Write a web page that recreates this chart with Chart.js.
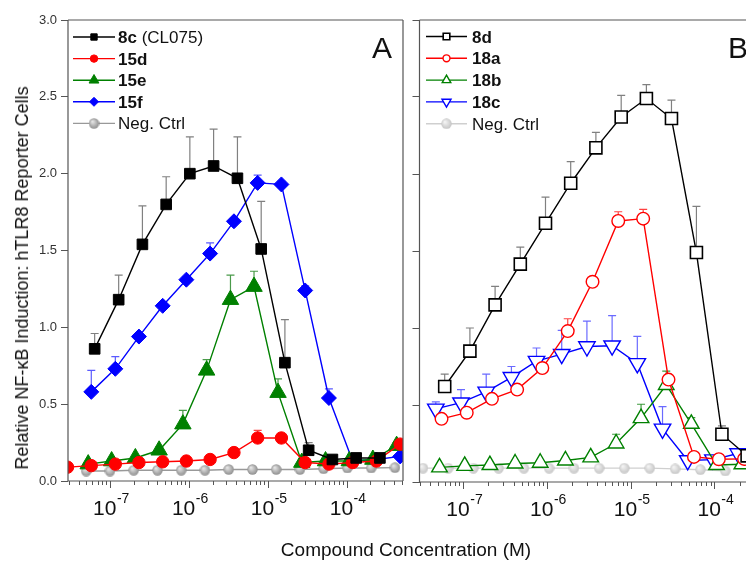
<!DOCTYPE html>
<html>
<head>
<meta charset="utf-8">
<script src="https://cdn.jsdelivr.net/npm/chart.js@4.4.1/dist/chart.umd.min.js"></script>
<style>
  html, body { margin: 0; padding: 0; background: #fff; }
  body { width: 746px; height: 564px; position: relative; overflow: hidden; font-family: 'Liberation Sans', Arial, sans-serif; }
  canvas { position: absolute; top: 0; }
  #chartA { left: 0; }
  #chartB { left: 400px; }
  .txt { position: absolute; white-space: nowrap; color: #111; line-height: 1; transform: translate(-50%, -50%); }
</style>
</head>
<body>
<canvas id="chartA" width="412" height="564"></canvas>
<canvas id="chartB" width="346" height="564"></canvas>
<div class="txt" style="left:382px;top:48px;font-size:30px;">A</div>
<div class="txt" style="left:738px;top:48px;font-size:30px;">B</div>
<div class="txt" style="left:22px;top:278px;font-size:18px;transform:translate(-50%,-50%) rotate(-90deg);">Relative NF-κB Induction: hTLR8 Reporter Cells</div>
<div class="txt" style="left:406px;top:549px;font-size:19px;">Compound Concentration (M)</div>
<script>
// panel A
const conc8c = [6.4e-8, 1.29e-7, 2.58e-7, 5.16e-7, 1.03e-6, 2.06e-6, 4.13e-6, 8.26e-6, 1.65e-5, 3.3e-5, 6.6e-5, 1.32e-4, 2.64e-4]
const val8c = [0.86, 1.18, 1.54, 1.80, 2.00, 2.05, 1.97, 1.51, 0.77, 0.20, 0.14, 0.15, 0.15]
const err8c = [0.10, 0.16, 0.25, 0.18, 0.24, 0.24, 0.27, 0.31, 0.28, 0.05, 0.02, 0.02, 0.02]

const conc15d = [2.9e-8, 5.8e-8, 1.17e-7, 2.33e-7, 4.66e-7, 9.3e-7, 1.86e-6, 3.73e-6, 7.45e-6, 1.49e-5, 2.98e-5, 5.96e-5, 1.19e-4, 2.38e-4, 4.77e-4]
const val15d = [0.09, 0.10, 0.11, 0.12, 0.125, 0.13, 0.14, 0.185, 0.28, 0.28, 0.12, 0.11, 0.12, 0.13, 0.24]
const err15d = [0, 0.01, 0.01, 0.01, 0.01, 0.01, 0.01, 0.02, 0.05, 0.02, 0.01, 0.01, 0.01, 0.01, 0.02]

const conc15e = [5.3e-8, 1.05e-7, 2.1e-7, 4.2e-7, 8.4e-7, 1.68e-6, 3.37e-6, 6.7e-6, 1.35e-5, 2.7e-5, 5.4e-5, 1.08e-4, 2.15e-4, 4.3e-4]
const val15e = [0.11, 0.13, 0.15, 0.20, 0.37, 0.72, 1.18, 1.265, 0.575, 0.12, 0.13, 0.13, 0.14, 0.23]
const err15e = [0.01, 0.01, 0.01, 0.02, 0.09, 0.07, 0.16, 0.10, 0.09, 0.01, 0.01, 0.01, 0.01, 0.02]

const conc15f = [5.8e-8, 1.17e-7, 2.33e-7, 4.66e-7, 9.3e-7, 1.86e-6, 3.73e-6, 7.45e-6, 1.49e-5, 2.98e-5, 5.96e-5, 1.19e-4, 2.38e-4, 4.77e-4]
const val15f = [0.58, 0.73, 0.94, 1.14, 1.31, 1.48, 1.69, 1.94, 1.93, 1.24, 0.54, 0.13, 0.14, 0.16]
const err15f = [0.14, 0.08, 0.02, 0.02, 0.02, 0.07, 0.02, 0.05, 0.02, 0.03, 0.06, 0.01, 0.01, 0.02]

const concNegA = [5.0e-8, 1.0e-7, 2.0e-7, 4.0e-7, 8.0e-7, 1.6e-6, 3.2e-6, 6.4e-6, 1.28e-5, 2.56e-5, 5.1e-5, 1.02e-4, 2.05e-4, 4.1e-4]
const valNegA = [0.065, 0.065, 0.07, 0.07, 0.07, 0.07, 0.075, 0.075, 0.075, 0.075, 0.08, 0.085, 0.085, 0.087]

// panel B
const conc8d = [6.0e-8, 1.2e-7, 2.4e-7, 4.8e-7, 9.6e-7, 1.92e-6, 3.84e-6, 7.7e-6, 1.54e-5, 3.07e-5, 6.1e-5, 1.23e-4, 2.46e-4]
const val8d = [0.62, 0.85, 1.15, 1.415, 1.68, 1.94, 2.17, 2.37, 2.49, 2.36, 1.49, 0.31, 0.17]
const err8d = [0.08, 0.15, 0.12, 0.11, 0.17, 0.14, 0.10, 0.14, 0.09, 0.12, 0.30, 0.055, 0.02]

const conc18a = [5.5e-8, 1.1e-7, 2.2e-7, 4.4e-7, 8.8e-7, 1.77e-6, 3.5e-6, 7.1e-6, 1.41e-5, 2.83e-5, 5.7e-5, 1.13e-4, 2.26e-4]
const val18a = [0.41, 0.45, 0.54, 0.60, 0.74, 0.98, 1.30, 1.695, 1.71, 0.665, 0.163, 0.148, 0.15]
const err18a = [0.02, 0.02, 0.02, 0.02, 0.02, 0.08, 0.02, 0.06, 0.06, 0.02, 0.01, 0.01, 0.01]

const conc18b = [5.2e-8, 1.04e-7, 2.08e-7, 4.16e-7, 8.3e-7, 1.66e-6, 3.33e-6, 6.7e-6, 1.33e-5, 2.66e-5, 5.3e-5, 1.06e-4, 2.13e-4]
const val18b = [0.095, 0.105, 0.11, 0.12, 0.125, 0.14, 0.16, 0.25, 0.415, 0.63, 0.378, 0.11, 0.115]
const err18b = [0.01, 0.01, 0.01, 0.01, 0.01, 0.01, 0.01, 0.06, 0.09, 0.09, 0.04, 0.01, 0.01]

const conc18c = [4.7e-8, 9.4e-8, 1.88e-7, 3.76e-7, 7.5e-7, 1.5e-6, 3.0e-6, 6.0e-6, 1.2e-5, 2.4e-5, 4.8e-5, 9.6e-5, 1.92e-4]
const val18c = [0.475, 0.515, 0.585, 0.68, 0.785, 0.83, 0.88, 0.885, 0.77, 0.345, 0.14, 0.145, 0.185]
const err18c = [0.045, 0.085, 0.115, 0.07, 0.085, 0.155, 0.165, 0.195, 0.175, 0.145, 0.01, 0.01, 0.01]

const concNegB = [3.3e-8, 6.6e-8, 1.32e-7, 2.64e-7, 5.3e-7, 1.06e-6, 2.1e-6, 4.2e-6, 8.4e-6, 1.69e-5, 3.4e-5, 6.8e-5, 1.35e-4]
const valNegB = [0.09, 0.09, 0.09, 0.09, 0.09, 0.09, 0.09, 0.09, 0.09, 0.09, 0.085, 0.08, 0.072]

// axes
const yTicks = [0, 0.5, 1.0, 1.5, 2.0, 2.5, 3.0]
const xTickExps = [-7, -6, -5, -4]
const xDecades = [-8, -7, -6, -5, -4]
const minorSteps = [2, 3, 4, 5, 6, 7, 8, 9]

const FONT = "'Liberation Sans', Arial, sans-serif"
Chart.defaults.font.family = FONT

function ball(size, light, dark) {
  const c = document.createElement('canvas')
  c.width = size
  c.height = size
  const g = c.getContext('2d')
  const r = size / 2
  const grad = g.createRadialGradient(r * 0.7, r * 0.65, 0.5, r, r, r)
  grad.addColorStop(0, light)
  grad.addColorStop(1, dark)
  g.fillStyle = grad
  g.beginPath()
  g.arc(r, r, r - 0.3, 0, Math.PI * 2)
  g.fill()
  return c
}

function series(label, conc, vals, errs, style) {
  return {
    label,
    data: conc.map((c, i) => ({ x: c, y: vals[i] })),
    errors: errs,
    borderWidth: 1.4,
    pointBorderWidth: 1,
    pointHoverRadius: 0,
    ...style,
  }
}

const errorBars = {
  id: 'errorBars',
  beforeDatasetsDraw(chart) {
    const { ctx, chartArea: a } = chart
    const ys = chart.scales.y
    ctx.save()
    ctx.beginPath()
    ctx.rect(a.left, a.top, a.right - a.left, a.bottom - a.top)
    ctx.clip()
    chart.data.datasets.forEach((ds, i) => {
      if (!ds.errors) return
      const pts = chart.getDatasetMeta(i).data
      ctx.strokeStyle = ds.errColor
      ctx.lineWidth = 1.2
      ds.errors.forEach((e, j) => {
        if (!e) return
        const p = pts[j]
        const top = ys.getPixelForValue(ds.data[j].y + e)
        ctx.beginPath()
        ctx.moveTo(p.x, p.y)
        ctx.lineTo(p.x, top)
        ctx.moveTo(p.x - 4, top)
        ctx.lineTo(p.x + 4, top)
        ctx.stroke()
      })
    })
    ctx.restore()
  },
}

// frame, log ticks and 10^n labels
const logAxis = {
  id: 'logAxis',
  afterDraw(chart, args, opts) {
    const { ctx, chartArea: a } = chart
    const xs = chart.scales.x
    ctx.save()
    ctx.strokeStyle = '#555'
    ctx.lineWidth = 1.2
    ctx.beginPath()
    ctx.moveTo(a.left, a.top); ctx.lineTo(a.right, a.top)
    ctx.moveTo(a.left, a.bottom); ctx.lineTo(a.right, a.bottom)
    ctx.moveTo(a.left, a.top); ctx.lineTo(a.left, a.bottom)
    if (opts.rightEdge) { ctx.moveTo(a.right, a.top); ctx.lineTo(a.right, a.bottom) }
    ctx.stroke()

    ctx.lineWidth = 1
    ctx.beginPath()
    xDecades.forEach((e) => {
      const base = Math.pow(10, e)
      ;[1, ...minorSteps].forEach((m) => {
        const v = m * base
        if (v < xs.min || v > xs.max) return
        const px = Math.round(xs.getPixelForValue(v)) + 0.5
        ctx.moveTo(px, a.bottom)
        ctx.lineTo(px, a.bottom + (m === 1 ? 7 : 4))
      })
    })
    ctx.stroke()

    ctx.fillStyle = '#111'
    xTickExps.forEach((e) => {
      const px = xs.getPixelForValue(Math.pow(10, e))
      const sup = String(e)
      ctx.font = '21px ' + FONT
      const w1 = ctx.measureText('10').width
      ctx.font = '14px ' + FONT
      const w2 = ctx.measureText(sup).width
      const x0 = px - (w1 + w2) / 2 + 1
      ctx.font = '21px ' + FONT
      ctx.fillText('10', x0, a.bottom + 34)
      ctx.font = '14px ' + FONT
      ctx.fillText(sup, x0 + w1 + 0.5, a.bottom + 22)
    })
    ctx.restore()
  },
}

const seriesLegend = {
  id: 'seriesLegend',
  afterDraw(chart, args, o) {
    const { ctx } = chart
    chart.data.datasets.forEach((ds, i) => {
      const y = o.top + i * o.gap
      const mx = o.left + o.len / 2
      ctx.save()
      ctx.strokeStyle = ds.borderColor
      ctx.lineWidth = 1.4
      ctx.beginPath()
      ctx.moveTo(o.left, y)
      ctx.lineTo(o.left + o.len, y)
      ctx.stroke()
      ctx.fillStyle = ds.pointBackgroundColor
      ctx.strokeStyle = ds.pointBorderColor
      ctx.lineWidth = ds.pointBorderWidth
      Chart.helpers.drawPoint(ctx, {
        pointStyle: ds.pointStyle, rotation: ds.pointRotation || 0,
        radius: ds.pointRadius * o.scale, borderWidth: ds.pointBorderWidth,
      }, mx, y)
      ctx.fillStyle = '#111'
      ctx.font = (ds.bold ? 'bold ' : '') + '17px ' + FONT
      ctx.fillText(ds.label, o.textX, y + 6)
      if (ds.note) {
        const w = ctx.measureText(ds.label).width
        ctx.font = '17px ' + FONT
        ctx.fillText(ds.note, o.textX + w, y + 6)
      }
      ctx.restore()
    })
  },
}

function scalesFor(min, max, yWidth, xHeight, showLabels) {
  return {
    x: {
      type: 'logarithmic', min, max,
      ticks: { display: false }, grid: { display: false }, border: { display: false },
      afterFit: (s) => { s.height = xHeight },
    },
    y: {
      min: 0, max: 3,
      afterBuildTicks: (s) => { s.ticks = yTicks.map((v) => ({ value: v })) },
      ticks: { callback: (v) => (showLabels ? Number(v).toFixed(1) : ''), font: { size: 13 }, color: '#333', padding: 4 },
      grid: { drawOnChartArea: false, tickLength: 7, color: '#555', lineWidth: 1 },
      border: { display: false },
      afterFit: (s) => { s.width = yWidth },
    },
  }
}

const negBallA = ball(11, '#e4e4e4', '#8c8c8c')
const negBallB = ball(11, '#f4f4f4', '#c4c4c4')

new Chart(document.getElementById('chartA'), {
  type: 'line',
  data: {
    datasets: [
      series('8c', conc8c, val8c, err8c, {
        note: ' (CL075)', bold: true, borderColor: '#000', pointBackgroundColor: '#000', pointBorderColor: '#000',
        pointStyle: 'rect', pointRadius: 7.5, errColor: '#808080',
      }),
      series('15d', conc15d, val15d, err15d, {
        bold: true, borderColor: '#ff0000', pointBackgroundColor: '#ff0000', pointBorderColor: '#ff0000',
        pointStyle: 'circle', pointRadius: 6.2, errColor: '#ff4040',
      }),
      series('15e', conc15e, val15e, err15e, {
        bold: true, borderColor: '#008000', pointBackgroundColor: '#008000', pointBorderColor: '#008000',
        pointStyle: 'triangle', pointRadius: 9.5, errColor: '#4a9a4a',
      }),
      series('15f', conc15f, val15f, err15f, {
        bold: true, borderColor: '#0000ff', pointBackgroundColor: '#0000ff', pointBorderColor: '#0000ff',
        pointStyle: 'rectRot', pointRadius: 7.5, errColor: '#5a5aff',
      }),
      series('Neg. Ctrl', concNegA, valNegA, null, {
        borderColor: '#999', pointBackgroundColor: '#aaa', pointBorderColor: '#999', pointBorderWidth: 0,
        pointStyle: negBallA, pointRadius: 5.5,
      }),
    ],
  },
  options: {
    responsive: false, animation: false, devicePixelRatio: 1,
    layout: { autoPadding: false, padding: { left: 0, top: 20, right: 9, bottom: 0 } },
    scales: scalesFor(2.94e-8, 5.18e-4, 68, 83, true),
    plugins: {
      legend: { display: false }, tooltip: { enabled: false },
      logAxis: { rightEdge: true },
      seriesLegend: { left: 73, len: 42, top: 37, gap: 21.6, textX: 118, scale: 0.6 },
    },
  },
  plugins: [errorBars, logAxis, seriesLegend],
})

new Chart(document.getElementById('chartB'), {
  type: 'line',
  data: {
    datasets: [
      series('8d', conc8d, val8d, err8d, {
        bold: true, borderColor: '#000', pointBackgroundColor: '#fff', pointBorderColor: '#000', pointBorderWidth: 1.6,
        pointStyle: 'rect', pointRadius: 8.5, errColor: '#808080',
      }),
      series('18a', conc18a, val18a, err18a, {
        bold: true, borderColor: '#ff0000', pointBackgroundColor: '#fff', pointBorderColor: '#ff0000', pointBorderWidth: 1.4,
        pointStyle: 'circle', pointRadius: 6.3, errColor: '#ff4040',
      }),
      series('18b', conc18b, val18b, err18b, {
        bold: true, borderColor: '#008000', pointBackgroundColor: '#fff', pointBorderColor: '#008000', pointBorderWidth: 1.4,
        pointStyle: 'triangle', pointRadius: 9, errColor: '#3c9a3c',
      }),
      series('18c', conc18c, val18c, err18c, {
        bold: true, borderColor: '#0000ff', pointBackgroundColor: '#fff', pointBorderColor: '#0000ff', pointBorderWidth: 1.4,
        pointStyle: 'triangle', pointRotation: 180, pointRadius: 9.5, errColor: '#6a6aff',
      }),
      series('Neg. Ctrl', concNegB, valNegB, null, {
        borderColor: '#cfcfcf', pointBackgroundColor: '#ddd', pointBorderColor: '#ccc', pointBorderWidth: 0,
        pointStyle: negBallB, pointRadius: 5.5,
      }),
    ],
  },
  options: {
    responsive: false, animation: false, devicePixelRatio: 1,
    layout: { autoPadding: false, padding: { left: 0, top: 20, right: 0, bottom: 0 } },
    scales: scalesFor(3.0e-8, 2.385e-4, 19.5, 82, false),
    plugins: {
      legend: { display: false }, tooltip: { enabled: false },
      logAxis: { rightEdge: false },
      seriesLegend: { left: 26, len: 41, top: 36.5, gap: 21.8, textX: 72, scale: 0.55 },
    },
  },
  plugins: [errorBars, logAxis, seriesLegend],
})
</script>
</body>
</html>
